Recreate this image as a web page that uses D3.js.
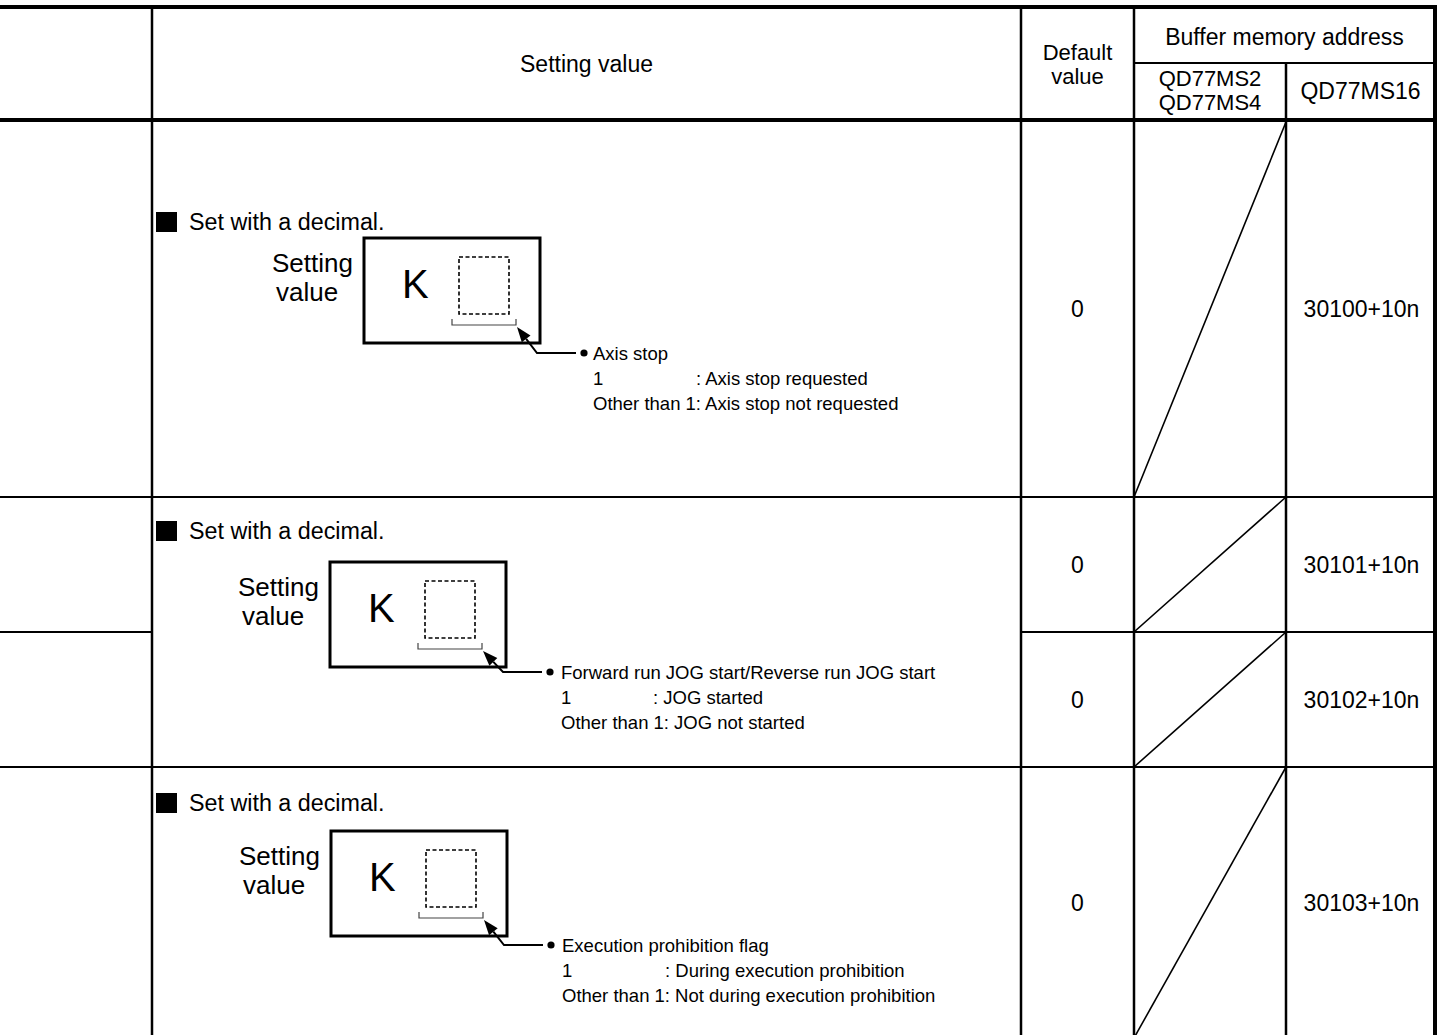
<!DOCTYPE html>
<html>
<head>
<meta charset="utf-8">
<script src="https://cdn.jsdelivr.net/npm/d3@7"></script>
<style>
  html, body { margin: 0; padding: 0; background: #fff; }
  svg { display: block; }
  text { font-family: "Liberation Sans", Arial, sans-serif; fill: #000; }
</style>
</head>
<body>
<svg id="chart" width="1440" height="1035"></svg>
<script>
// ---------------- data ----------------
const headerSetting = "Setting value";
const headerDefault = ["Default", "value"];
const headerBuffer = "Buffer memory address";
const headerModelsA = ["QD77MS2", "QD77MS4"];
const headerModelB = "QD77MS16";

const defaultValues = ["0", "0", "0", "0"];
const addresses = ["30100+10n", "30101+10n", "30102+10n", "30103+10n"];

const setTitle = "Set with a decimal.";
const boxLabel = ["Setting", "value"];
const boxPrefix = "K";
const itemNames = ["Axis stop", "Forward run JOG start/Reverse run JOG start", "Execution prohibition flag"];
const valueOne = ["Axis stop requested", "JOG started", "During execution prohibition"];
const valueOther = ["Axis stop not requested", "JOG not started", "Not during execution prohibition"];

// ---------------- layout ----------------
const svg = d3.select("#chart");
const colX = d3.scaleLinear().domain([0, 1, 2, 3, 4, 5]).range([0, 152, 1021, 1134, 1286, 1435]);
const rowY = d3.scaleLinear().domain([0, 1, 2, 3, 4, 5, 6]).range([7, 63, 120, 497, 632, 767, 1038]);
const bottomY = rowY(6);

// grid lines
const gLines = svg.append("g").attr("stroke", "#000").attr("fill", "none");
const hLines = [
  { x1: 0, x2: 1437, y: rowY(0), w: 4 },
  { x1: colX(3), x2: colX(5), y: rowY(1), w: 2 },
  { x1: 0, x2: 1437, y: rowY(2), w: 4 },
  { x1: 0, x2: colX(5), y: rowY(3), w: 2 },
  { x1: 0, x2: colX(1), y: rowY(4), w: 2 },
  { x1: colX(2), x2: colX(5), y: rowY(4), w: 2 },
  { x1: 0, x2: colX(5), y: rowY(5), w: 2 }
];
gLines.selectAll("line.h").data(hLines).join("line")
  .attr("x1", d => d.x1).attr("x2", d => d.x2)
  .attr("y1", d => d.y).attr("y2", d => d.y)
  .attr("stroke-width", d => d.w);

const vLines = [
  { x: colX(1), y1: rowY(0), w: 2.5 },
  { x: colX(2), y1: rowY(0), w: 2.5 },
  { x: colX(3), y1: rowY(0), w: 2.5 },
  { x: colX(4), y1: rowY(1), w: 2.5 },
  { x: colX(5), y1: rowY(0) - 2, w: 4 }
];
gLines.selectAll("line.v").data(vLines).join("line")
  .attr("x1", d => d.x).attr("x2", d => d.x)
  .attr("y1", d => d.y1).attr("y2", bottomY)
  .attr("stroke-width", d => d.w);

// diagonals in QD77MS2/QD77MS4 column
const dataRows = [0, 1, 2, 3];
gLines.selectAll("line.diag").data(dataRows).join("line")
  .attr("x1", colX(3)).attr("y1", i => rowY(i + 3))
  .attr("x2", colX(4)).attr("y2", i => rowY(i + 2) + (i === 0 ? 2 : 0))
  .attr("stroke-width", 1.6);

// ---------------- header text ----------------
const FS = 23;
const gH = svg.append("g").attr("font-size", 22).attr("text-anchor", "middle");
gH.append("text").attr("x", (colX(1) + colX(2)) / 2).attr("y", 72).attr("font-size", FS).text(headerSetting);
gH.selectAll("text.def").data(headerDefault).join("text")
  .attr("x", (colX(2) + colX(3)) / 2).attr("y", (d, i) => 60 + i * 24).text(d => d);
gH.append("text").attr("x", (colX(3) + colX(5)) / 2).attr("y", 45).attr("font-size", FS).text(headerBuffer);
gH.selectAll("text.ma").data(headerModelsA).join("text")
  .attr("x", (colX(3) + colX(4)) / 2).attr("y", (d, i) => 86 + i * 24).text(d => d);
gH.append("text").attr("x", (colX(4) + colX(5)) / 2).attr("y", 99).attr("font-size", FS).text(headerModelB);

// ---------------- default / address cells ----------------
const gC = svg.append("g").attr("font-size", FS).attr("text-anchor", "middle");
gC.selectAll("text.dv").data(defaultValues).join("text")
  .attr("x", (colX(2) + colX(3)) / 2)
  .attr("y", (d, i) => (rowY(i + 2) + rowY(i + 3)) / 2 + 8)
  .text(d => d);
gC.selectAll("text.ad").data(addresses).join("text")
  .attr("x", (colX(4) + colX(5)) / 2 + 1)
  .attr("y", (d, i) => (rowY(i + 2) + rowY(i + 3)) / 2 + 8)
  .text(d => d);

// ---------------- setting value blocks ----------------
const blocks = [
  { sqY: 212, titleY: 230, boxX: 364, boxY: 238, leadDy: 115, textGap: 9, colonDx: 103 },
  { sqY: 521, titleY: 539, boxX: 330, boxY: 562, leadDy: 110, textGap: 11, colonDx: 92 },
  { sqY: 793, titleY: 811, boxX: 331, boxY: 831, leadDy: 114, textGap: 11, colonDx: 103 }
];
const dotDx = 220;

blocks.forEach((b, i) => {
  const g = svg.append("g");
  // bullet square
  g.append("rect").attr("x", 156).attr("y", b.sqY).attr("width", 21).attr("height", 20).attr("fill", "#000");
  g.append("text").attr("x", 189).attr("y", b.titleY).attr("font-size", 23.3).text(setTitle);
  // Setting value label
  g.selectAll("text.lbl").data(boxLabel).join("text")
    .attr("x", (d, k) => b.boxX - 92 + k * 4)
    .attr("y", (d, k) => b.boxY + 34 + k * 29)
    .attr("font-size", 26)
    .text(d => d);
  // box
  g.append("rect").attr("x", b.boxX).attr("y", b.boxY).attr("width", 176).attr("height", 105)
    .attr("fill", "none").attr("stroke", "#000").attr("stroke-width", 3);
  g.append("text").attr("x", b.boxX + 38).attr("y", b.boxY + 60).attr("font-size", 40).text(boxPrefix);
  // dashed inner
  g.append("rect").attr("x", b.boxX + 95).attr("y", b.boxY + 19).attr("width", 50).attr("height", 57)
    .attr("fill", "none").attr("stroke", "#000").attr("stroke-width", 1.6).attr("stroke-dasharray", "4,2.5");
  // bracket
  g.append("path")
    .attr("d", `M${b.boxX + 88},${b.boxY + 81}V${b.boxY + 87}H${b.boxX + 152}V${b.boxY + 81}`)
    .attr("fill", "none").attr("stroke", "#444").attr("stroke-width", 1.2);
  // leader
  const tip = [b.boxX + 153, b.boxY + 89];
  const corner = [b.boxX + 173, b.boxY + b.leadDy];
  const dot = [b.boxX + dotDx, b.boxY + b.leadDy];
  const ang = Math.atan2(tip[1] - corner[1], tip[0] - corner[0]);
  const L = 15, W = 5.5;
  const base = [tip[0] - L * Math.cos(ang), tip[1] - L * Math.sin(ang)];
  g.append("path")
    .attr("d", `M${base[0]},${base[1]}L${corner[0]},${corner[1]}H${dot[0] - 8}`)
    .attr("fill", "none").attr("stroke", "#000").attr("stroke-width", 2);
  const p1 = [base[0] + W * Math.sin(ang), base[1] - W * Math.cos(ang)];
  const p2 = [base[0] - W * Math.sin(ang), base[1] + W * Math.cos(ang)];
  g.append("path").attr("d", `M${tip[0]},${tip[1]}L${p1[0]},${p1[1]}L${p2[0]},${p2[1]}Z`).attr("fill", "#000");
  g.append("circle").attr("cx", dot[0]).attr("cy", dot[1]).attr("r", 3.6).attr("fill", "#000");
  // description lines
  const tx = dot[0] + b.textGap;
  const fs = 18.5;
  g.append("text").attr("x", tx).attr("y", dot[1] + 6.5).attr("font-size", fs).text(itemNames[i]);
  g.append("text").attr("x", tx).attr("y", dot[1] + 31.5).attr("font-size", fs).text("1");
  g.append("text").attr("x", tx + b.colonDx).attr("y", dot[1] + 31.5).attr("font-size", fs).text(": " + valueOne[i]);
  g.append("text").attr("x", tx).attr("y", dot[1] + 56.5).attr("font-size", fs).text("Other than 1: " + valueOther[i]);
});
</script>
</body>
</html>
